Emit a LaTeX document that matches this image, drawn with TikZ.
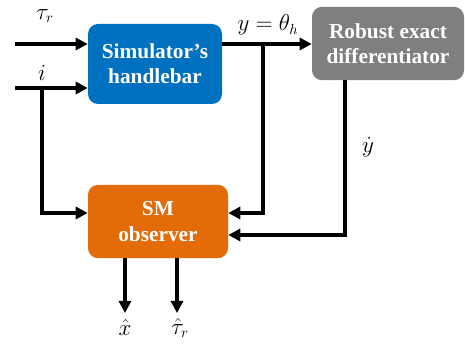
\documentclass[tikz,border=0pt]{standalone}
\usepackage{amsmath}
\usepackage{fontspec}
\newfontfamily\boxfont[BoldFont={Liberation Serif Bold}]{Liberation Serif}
\usetikzlibrary{arrows.meta,calc}
\definecolor{simblue}{HTML}{0070C0}
\definecolor{redgray}{HTML}{7F7F7F}
\definecolor{obsorange}{HTML}{E36C09}

\begin{document}
\begin{tikzpicture}[x=0.75pt, y=-0.75pt,
    block/.style = {draw=none, rounded corners=7.5pt, text=white, align=center,
        font=\boxfont\bfseries\fontsize{16}{19}\selectfont},
    arr/.style = {line width=2.3pt, -{Triangle[length=9pt,width=9pt]}},
    lbl/.style = {font=\fontsize{16}{19}\selectfont}]
\useasboundingbox (0,0) rectangle (465,345);
\node[block, fill=simblue, minimum width=100.5pt, minimum height=60pt] (sim) at (155,64) {Simulator’s\\handlebar};
\node[block, fill=redgray, minimum width=114pt, minimum height=55pt] (red) at (388,43.5) {Robust exact\\differentiator};
\node[block, fill=obsorange, minimum width=105pt, minimum height=55pt] (obs) at (158,221.5) {SM\\observer};
% inputs and branch points
\coordinate (tauin) at (15,44);
\coordinate (iin) at (15,88);
\coordinate (ibr) at (42,88);
\coordinate (ybr) at (263,44);
\coordinate (lvA) at (0,213);
\coordinate (lvB) at (0,235);
\path (red.south) ++(-43,0) coordinate (dtop);
\coordinate (xo) at (125,313);
\coordinate (to) at (177,313);
\draw[arr] (tauin) -- (tauin -| sim.west);
\draw[arr] (iin) -- (iin -| sim.west);
\draw[arr] (sim.east |- tauin) -- (red.west |- tauin);
\draw[arr] (ybr) |- (obs.east |- lvA);
\draw[arr] (ibr) |- (obs.west |- lvA);
\draw[arr] (dtop) |- (obs.east |- lvB);
\draw[arr] (obs.south -| xo) -- (xo);
\draw[arr] (obs.south -| to) -- (to);
% labels
\node[lbl] (ltau) at (45,16) {$\tau_r$};
\node[lbl] (li) at (42,73) {$i$};
\node[lbl] (ly) at (268,25) {$y=\theta_h$};
\node[lbl] (ldy) at (368,147) {$\dot{y}$};
\node[lbl] (lx) at (125,328) {$\hat{x}$};
\node[lbl] (lt) at (180,328) {$\hat{\tau}_r$};
\end{tikzpicture}
\end{document}
